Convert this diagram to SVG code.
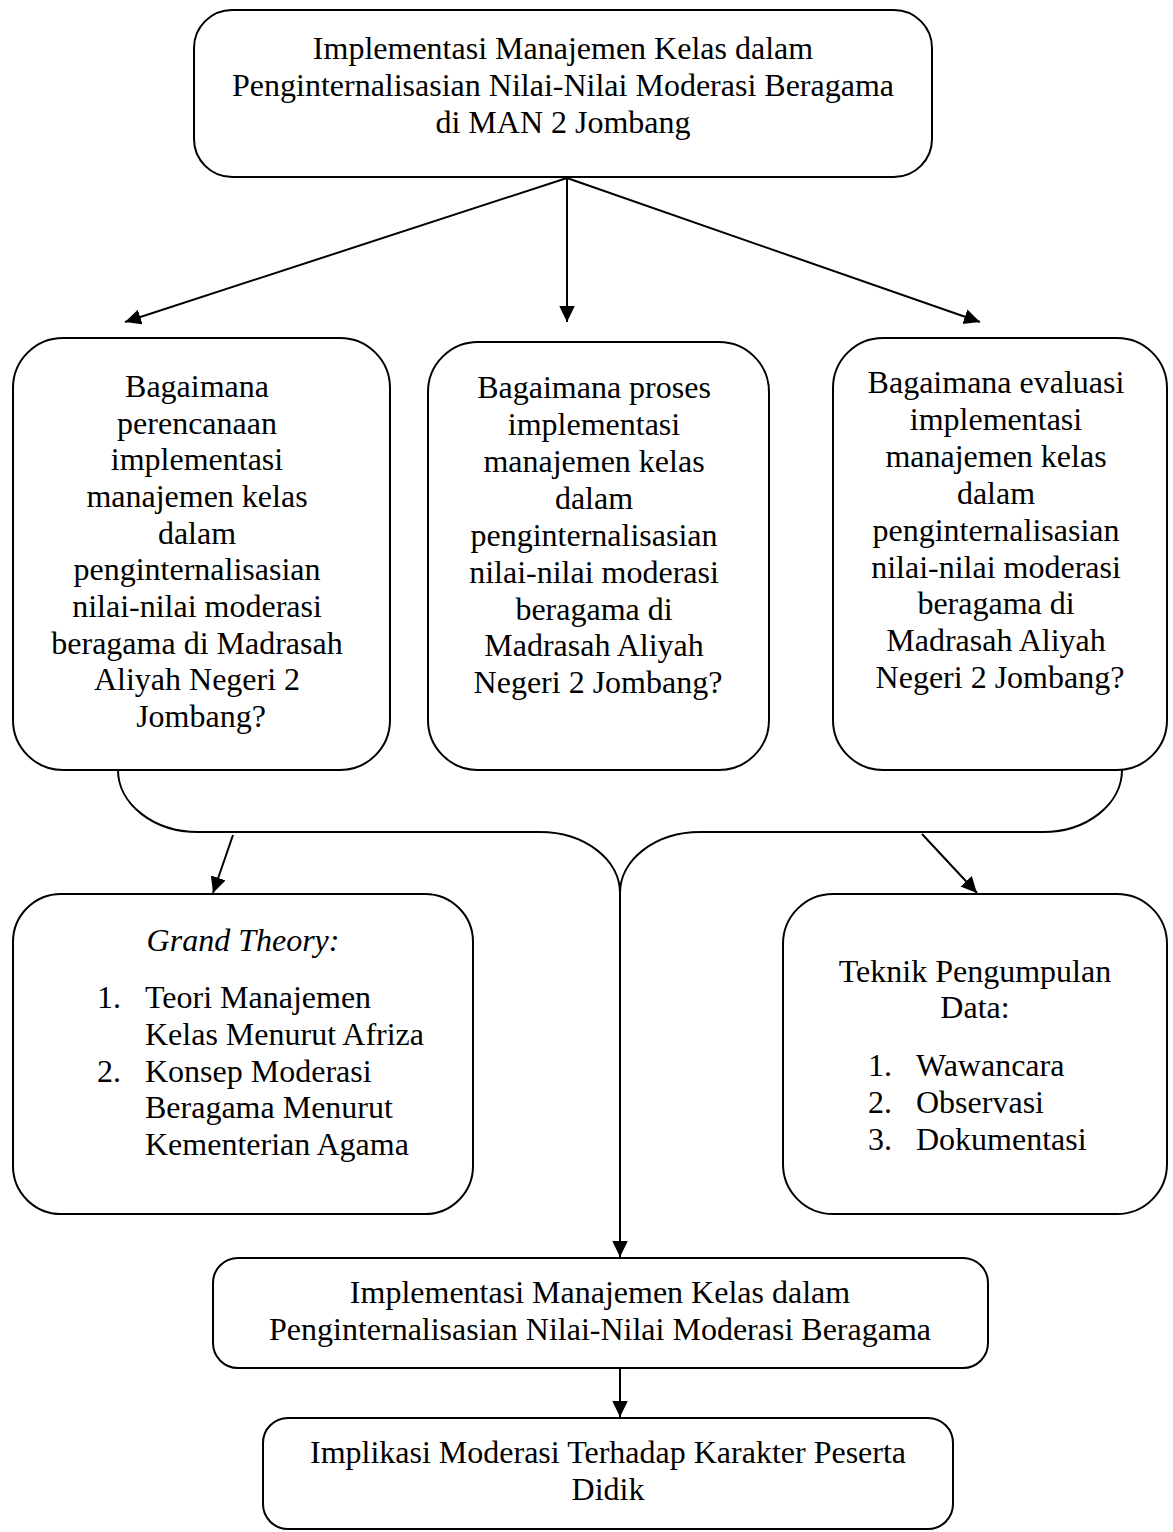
<svg xmlns="http://www.w3.org/2000/svg" width="1173" height="1532" viewBox="0 0 1173 1532">
<style>
.box{fill:#fff;stroke:#000;stroke-width:2}
.t{font-family:"Liberation Serif","Times New Roman",serif;font-size:32px;fill:#000}
.c{text-anchor:middle}
.line{fill:none;stroke:#000;stroke-width:2}
</style>
<defs>
<marker id="ah" markerUnits="userSpaceOnUse" markerWidth="17" markerHeight="16" refX="16" refY="7.75" orient="auto">
<path d="M0,0 L16,7.75 L0,15.5 z" fill="#000"/>
</marker>
</defs>
<rect width="1173" height="1532" fill="#fff"/>
<g id="connectors">
<line class="line" x1="567" y1="178" x2="125" y2="322" marker-end="url(#ah)"/>
<line class="line" x1="567" y1="178" x2="567" y2="322" marker-end="url(#ah)"/>
<line class="line" x1="567" y1="178" x2="980" y2="322" marker-end="url(#ah)"/>
<path class="line" d="M118,770 A80,62 0 0 0 198,832 L540,832 A80,61 0 0 1 620,893 A80,61 0 0 1 700,832 L1043,832 A79,62 0 0 0 1122,770"/>
<line class="line" x1="233" y1="835" x2="213" y2="893" marker-end="url(#ah)"/>
<line class="line" x1="922" y1="834" x2="977" y2="893" marker-end="url(#ah)"/>
<line class="line" x1="620" y1="893" x2="620" y2="1257" marker-end="url(#ah)"/>
<line class="line" x1="620" y1="1368" x2="620" y2="1417" marker-end="url(#ah)"/>
</g>
<g id="node-top">
<rect class="box" x="194" y="10" width="738" height="167" rx="38" ry="38"/>
<text class="t c" x="563" y="59">Implementasi Manajemen Kelas dalam</text>
<text class="t c" x="563" y="96">Penginternalisasian Nilai-Nilai Moderasi Beragama</text>
<text class="t c" x="563" y="133">di MAN 2 Jombang</text>
</g>
<g id="node-perencanaan">
<rect class="box" x="13" y="338" width="377" height="432" rx="50" ry="50"/>
<text class="t c" x="201">
<tspan x="201" y="397">Bagaimana</tspan>
<tspan x="201" y="434">perencanaan</tspan>
<tspan x="201" y="470">implementasi</tspan>
<tspan x="201" y="507">manajemen kelas</tspan>
<tspan x="201" y="544">dalam</tspan>
<tspan x="201" y="580">penginternalisasian</tspan>
<tspan x="201" y="617">nilai-nilai moderasi</tspan>
<tspan x="201" y="654">beragama di Madrasah</tspan>
<tspan x="201" y="690">Aliyah Negeri 2</tspan>
<tspan x="201" y="727">Jombang?</tspan>
</text>
</g>
<g id="node-proses">
<rect class="box" x="428" y="342" width="341" height="428" rx="50" ry="50"/>
<text class="t c" x="598">
<tspan x="598" y="398">Bagaimana proses</tspan>
<tspan x="598" y="435">implementasi</tspan>
<tspan x="598" y="472">manajemen kelas</tspan>
<tspan x="598" y="509">dalam</tspan>
<tspan x="598" y="546">penginternalisasian</tspan>
<tspan x="598" y="583">nilai-nilai moderasi</tspan>
<tspan x="598" y="620">beragama di</tspan>
<tspan x="598" y="656">Madrasah Aliyah</tspan>
<tspan x="598" y="693">Negeri 2 Jombang?</tspan>
</text>
</g>
<g id="node-evaluasi">
<rect class="box" x="833" y="338" width="334" height="432" rx="50" ry="50"/>
<text class="t c" x="1000">
<tspan x="1000" y="393">Bagaimana evaluasi</tspan>
<tspan x="1000" y="430">implementasi</tspan>
<tspan x="1000" y="467">manajemen kelas</tspan>
<tspan x="1000" y="504">dalam</tspan>
<tspan x="1000" y="541">penginternalisasian</tspan>
<tspan x="1000" y="578">nilai-nilai moderasi</tspan>
<tspan x="1000" y="614">beragama di</tspan>
<tspan x="1000" y="651">Madrasah Aliyah</tspan>
<tspan x="1000" y="688">Negeri 2 Jombang?</tspan>
</text>
</g>
<g id="node-grand-theory">
<rect class="box" x="13" y="894" width="460" height="320" rx="48" ry="48"/>
<text class="t c" x="243" y="951" font-style="italic">Grand Theory:</text>
<text class="t" x="97" y="1008">1.</text>
<text class="t" x="145" y="1008">Teori Manajemen</text>
<text class="t" x="145" y="1045">Kelas Menurut Afriza</text>
<text class="t" x="97" y="1082">2.</text>
<text class="t" x="145" y="1082">Konsep Moderasi</text>
<text class="t" x="145" y="1118">Beragama Menurut</text>
<text class="t" x="145" y="1155">Kementerian Agama</text>
</g>
<g id="node-teknik">
<rect class="box" x="783" y="894" width="384" height="320" rx="50" ry="50"/>
<text class="t c" x="975" y="982">Teknik Pengumpulan</text>
<text class="t c" x="975" y="1018">Data:</text>
<text class="t" x="868" y="1076">1.</text>
<text class="t" x="916" y="1076">Wawancara</text>
<text class="t" x="868" y="1113">2.</text>
<text class="t" x="916" y="1113">Observasi</text>
<text class="t" x="868" y="1150">3.</text>
<text class="t" x="916" y="1150">Dokumentasi</text>
</g>
<g id="node-implementasi">
<rect class="box" x="213" y="1258" width="775" height="110" rx="25" ry="25"/>
<text class="t c" x="600" y="1303">Implementasi Manajemen Kelas dalam</text>
<text class="t c" x="600" y="1340">Penginternalisasian Nilai-Nilai Moderasi Beragama</text>
</g>
<g id="node-implikasi">
<rect class="box" x="263" y="1418" width="690" height="111" rx="25" ry="25"/>
<text class="t c" x="608" y="1463">Implikasi Moderasi Terhadap Karakter Peserta</text>
<text class="t c" x="608" y="1500">Didik</text>
</g>
</svg>
